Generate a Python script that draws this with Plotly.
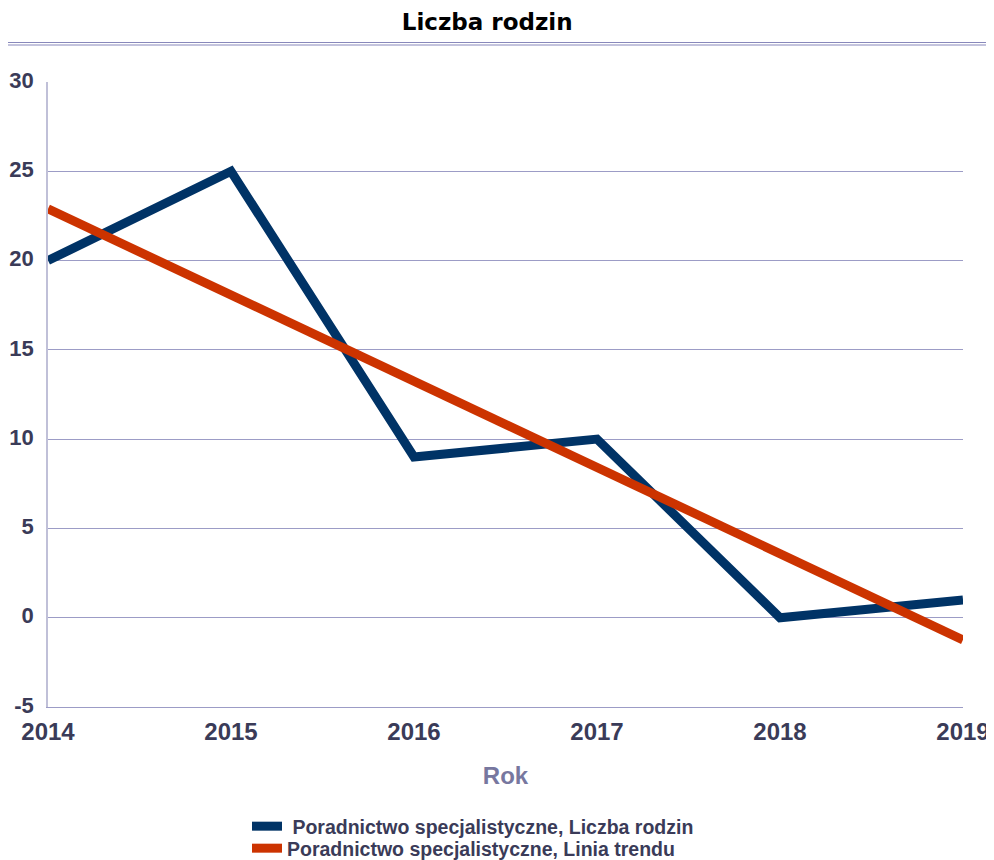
import plotly.graph_objects as go

years = [2014, 2015, 2016, 2017, 2018, 2019]
families = [20, 25, 9, 10, 0, 1]
trend = [22.9, 18.07, 13.24, 8.41, 3.59, -1.24]
y_ticks = [-5, 0, 5, 10, 15, 20, 25, 30]
y_tick_text = ["-5", "0", "5", "10", "15", "20", "25", "30"]
x_tick_text = ["2014", "2015", "2016", "2017", "2018", "2019"]

NAVY = "#003366"
ORANGE = "#cc3300"
TXT = "#3a3b58"
GRID = "#9c9cc6"

fig = go.Figure()
fig.add_trace(go.Scatter(x=years, y=families, mode="lines",
                         name="\u00a0Poradnictwo specjalistyczne, Liczba rodzin",
                         line=dict(color=NAVY, width=9), legend="legend"))
fig.add_trace(go.Scatter(x=years, y=trend, mode="lines",
                         name="Poradnictwo specjalistyczne, Linia trendu",
                         line=dict(color=ORANGE, width=9), legend="legend2"))

legend_common = dict(orientation="v", xanchor="left", yanchor="top",
                     font=dict(size=19.5, weight="bold", color=TXT),
                     itemwidth=30, bgcolor="rgba(0,0,0,0)")

# page body has an 8px margin: figure is sized/offset to compensate
fig.update_layout(
    width=986, height=852,
    margin=dict(l=40, r=31, t=74, b=153, autoexpand=False),
    paper_bgcolor="white", plot_bgcolor="white",
    font=dict(family="Liberation Sans", color=TXT),
    title=dict(text="Liczba rodzin", x=0.486, xref="container", xanchor="center",
               y=0.9836, yanchor="middle", automargin=False,
               font=dict(family="DejaVu Sans", size=23, color="black", weight="bold")),
    xaxis=dict(range=[2014, 2019], tickmode="array", tickvals=years,
               ticktext=x_tick_text, automargin=False,
               showgrid=False, zeroline=False, showline=True, linecolor=GRID, linewidth=1,
               ticks="", ticklabelstandoff=3,
               tickfont=dict(size=24, weight="bold", color=TXT),
               title=dict(text="Rok", font=dict(size=24, weight="bold", color="#77779f"),
                          standoff=23)),
    yaxis=dict(range=[-5, 30], tickmode="array", tickvals=y_ticks, ticktext=y_tick_text,
               automargin=False,
               showgrid=True, gridcolor=GRID, gridwidth=1, zeroline=False,
               showline=True, linecolor="#c0c0d8", linewidth=1.5, ticks="",
               ticklabelstandoff=8, ticklabelshift=-2,
               tickfont=dict(size=22, weight="bold", color=TXT)),
    legend=dict(x=0.2175, y=-0.16, **legend_common),
    legend2=dict(x=0.2175, y=-0.1952, **legend_common),
    showlegend=True,
)

for yy in [1.0632, 1.0592]:
    fig.add_shape(type="line", xref="paper", yref="paper",
                  x0=-0.046, x1=1.034, y0=yy, y1=yy,
                  line=dict(color="#8888bb", width=1))

fig.write_html("out.html")
